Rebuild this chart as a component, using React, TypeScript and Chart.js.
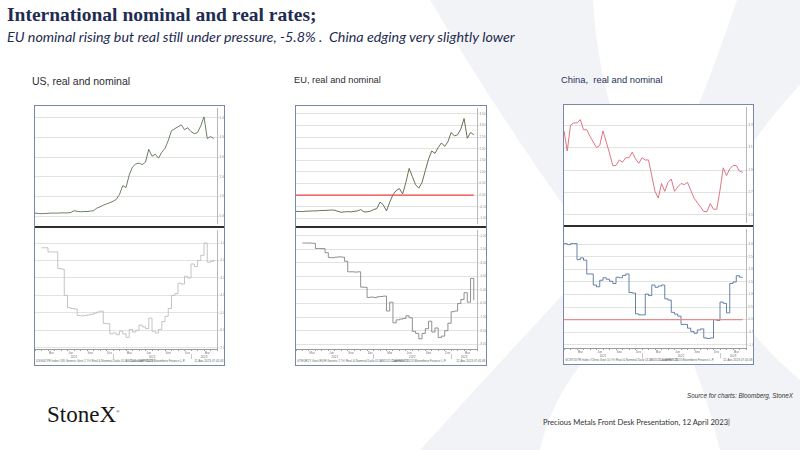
import { useEffect, useRef } from "react"
import { Chart, registerables, ChartConfiguration } from "chart.js"

Chart.register(...registerables)

// half-month periods from Jan 2021 to Apr 2023; the last label closes the axis
const monthNames = ["Jan", "Feb", "Mar", "Apr", "May", "Jun", "Jul", "Aug", "Sep", "Oct", "Nov", "Dec"]
const years = [2021, 2022, 2023]
const periods: string[] = []
years.forEach((yr) => {
  monthNames.forEach((mon, m) => {
    if (yr === 2023 && m > 3) return
    periods.push(`${mon} ${yr} a`, `${mon} ${yr} b`)
  })
})
periods.push("May 2023 a")

const monthTicks = ["Mar", "Jun", "Sep", "Dec"]
const yearLabelPeriods = ["Jul 2021 a", "Jul 2022 a", "Mar 2023 a"]
const yearLabels = ["2021", "2022", "2023"]
const yearBoundaries = ["Jan 2022 a", "Jan 2023 a"]

// US
const usNominal = [
  0.15, 0.13, 0.12, 0.13, 0.14, 0.15, 0.15, 0.15, 0.16, 0.16,
  0.16, 0.18, 0.27, 0.24, 0.22, 0.23, 0.23, 0.25, 0.27, 0.4,
  0.47, 0.55, 0.62, 0.68, 0.75, 0.85, 1.1, 1.55, 1.45, 2.1,
  2.5, 2.65, 2.7, 2.62, 2.75, 3.4, 3.05, 3.15, 2.95, 3.25,
  3.45, 3.85, 4.35, 4.45, 4.55, 4.65, 4.4, 4.5, 4.3, 4.2,
  4.25, 4.6, 5.05, 3.95, 4.05, 3.95,
]
const usReal = [
  null, null, -1.27, -1.27, -1.51, -1.51, -1.51, -2.46, -2.5, -4.0,
  -4.7, -4.75, -4.78, -5.15, -5.17, -5.15, -5.12, -5.08, -5.02, -4.95,
  -4.9, -5.6, -5.62, -6.2, -6.15, -6.25, -6.05, -6.2, -6.4, -5.95,
  -6.1, -6.0, -5.7, -5.8, -5.9, -5.3, -6.05, -6.15, -5.95, -5.5,
  -5.2, -4.75, -4.0, -3.9, -3.3, -3.35, -2.9, -3.0, -2.2, -2.35,
  -2.0, -1.7, -1.0, -2.1, -2.05, -1.95,
]
const usNominalTicks = [0, 1, 2, 3, 4, 5]
const usRealTicks = [-7, -6, -5, -4, -3, -2, -1]

// EU
const euNominal = [
  -0.7, -0.7, -0.71, -0.69, -0.69, -0.68, -0.68, -0.67, -0.66, -0.66,
  -0.65, -0.64, -0.65, -0.7, -0.74, -0.72, -0.71, -0.72, -0.7, -0.68,
  -0.62, -0.72, -0.72, -0.69, -0.62, -0.58, -0.3, -0.42, -0.68, -0.3,
  0.02, 0.2, 0.28, 0.05, 0.55, 1.15, 0.8, 0.45, 0.3, 0.55,
  1.05, 1.55, 1.9, 1.8, 2.05, 2.25, 2.1, 2.3, 2.7, 2.55,
  2.6, 2.85, 3.3, 2.45, 2.7, 2.6,
]
const euReal = [
  null, null, -1.54, -1.54, -1.54, -1.56, -1.94, -1.94, -1.95, -2.25,
  -2.6, -2.62, -2.58, -2.56, -2.58, -2.88, -3.66, -3.66, -3.68, -3.66,
  -4.79, -4.8, -5.55, -5.52, -5.56, -5.5, -5.48, -5.45, -6.55, -5.9,
  -7.42, -7.2, -7.15, -7.1, -6.9, -7.05, -8.05, -8.2, -8.6, -8.2,
  -7.85, -7.3, -8.1, -7.8, -8.5, -8.4, -8.0, -7.45, -6.6, -6.55,
  -6.0, -5.7, -5.2, -5.9, -4.15, -5.75,
]
const euNominalTicks = [-1, -0.5, 0, 0.5, 1, 1.5, 2, 2.5, 3, 3.5]
const euRealTicks = [-9, -8, -7, -6, -5, -4, -3, -2, -1]
const euNominalRef = 0

// China
const cnNominal = [
  3.25, 3.07, 3.3, 3.32, 3.32, 3.35, 3.26, 3.26, 3.2, 3.15,
  3.1, 3.12, 3.25, 3.15, 3.05, 2.94, 2.94, 2.99, 2.97, 3.01,
  3.01, 3.06, 3.0, 2.96, 3.01, 2.99, 2.99, 2.85, 2.71, 2.65,
  2.78, 2.71, 2.79, 2.82, 2.71, 2.75, 2.78, 2.77, 2.79, 2.72,
  2.65, 2.61, 2.57, 2.53, 2.53, 2.6, 2.55, 2.55, 2.72, 2.92,
  2.85, 2.91, 2.94, 2.94, 2.89, 2.88,
]
const cnReal = [
  3.03, 2.99, 3.03, 3.03, 2.39, 2.46, 2.37, 1.82, 1.82, 1.38,
  1.31, 1.57, 1.67, 1.61, 1.53, 1.44, 1.69, 1.67, 1.76, 1.82,
  1.08, 1.06, 0.23, 0.19, 0.19, 1.02, 0.96, 1.38, 1.29, 1.34,
  1.38, 0.83, 0.78, 0.29, 0.22, 0.14, -0.19, -0.19, -0.34, -0.47,
  -0.54, -0.41, -0.37, -0.73, -0.75, -0.73, 0.0, -0.03, 0.7, 0.65,
  0.27, 1.44, 1.5, 1.75, 1.69, 1.69,
]
const cnNominalTicks = [2.5, 2.7, 2.9, 3.1, 3.3]
const cnRealTicks = [-1, -0.5, 0, 0.5, 1, 1.5, 2, 2.5, 3]
const cnRealRef = 0

const TICK_FONT = { size: 3, family: "Liberation Sans" }

function yAxis(ticks: number[], min: number, max: number, axisWidth: number) {
  return {
    position: "right" as const,
    min,
    max,
    afterBuildTicks: (scale: any) => {
      scale.ticks = ticks.map((value) => ({ value }))
    },
    afterFit: (scale: any) => {
      scale.width = axisWidth
    },
    grid: { color: "#e2e2e2", lineWidth: 1, tickLength: 2 },
    border: { display: true, color: "#b8b8b8" },
    ticks: {
      font: TICK_FONT,
      color: "#8c8c8c",
      padding: 0.5,
      callback: (v: any) => Number(v).toFixed(2),
    },
  }
}

function refLine(level: number, color: string) {
  return {
    data: periods.slice(0, -1).map(() => level),
    borderColor: color,
    borderWidth: 1.2,
    pointRadius: 0,
  }
}

interface PanelChartProps {
  values: (number | null)[]
  color: string
  ticks: number[]
  range: [number, number]
  axisWidth: number
  stepped?: boolean
  refLevel?: number
  refColor?: string
  withAxis?: boolean
  height: number
}

function PanelChart({ values, color, ticks, range, axisWidth, stepped, refLevel, refColor, withAxis, height }: PanelChartProps) {
  const chartRef = useRef<HTMLCanvasElement>(null)
  const chartInstance = useRef<Chart | null>(null)

  useEffect(() => {
    if (!chartRef.current) return
    if (chartInstance.current) chartInstance.current.destroy()
    const ctx = chartRef.current.getContext("2d")
    if (!ctx) return

    const datasets: any[] = []
    if (refLevel !== undefined) datasets.push(refLine(refLevel, refColor || "#e84848"))
    datasets.push({
      data: values,
      borderColor: color,
      borderWidth: 0.9,
      pointRadius: 0,
      tension: 0,
      stepped: stepped ? true : false,
    })

    const scales: any = {
      y: yAxis(ticks, range[0], range[1], axisWidth),
    }
    if (withAxis) {
      scales.x = {
        type: "category",
        offset: false,
        weight: 0,
        grid: {
          drawOnChartArea: false,
          tickLength: 2,
          color: (c: any) => (periods[c.index] && periods[c.index].endsWith(" a") ? "#a0a0a0" : "transparent"),
        },
        border: { display: true, color: "#9a9a9a" },
        ticks: {
          autoSkip: false,
          maxRotation: 0,
          minRotation: 0,
          padding: 0,
          font: TICK_FONT,
          color: "#777",
          callback: (_v: any, i: number) => {
            const [mon, , half] = periods[i].split(" ")
            return half === "b" && monthTicks.includes(mon) ? mon : ""
          },
        },
        afterFit: (s: any) => {
          s.height = 5
        },
      }
      scales.xYear = {
        type: "category",
        position: "bottom",
        offset: false,
        weight: 1,
        grid: {
          drawOnChartArea: false,
          tickLength: 5,
          color: (c: any) => (yearBoundaries.includes(periods[c.index]) ? "#c8c8c8" : "transparent"),
        },
        border: { display: false },
        ticks: {
          autoSkip: false,
          maxRotation: 0,
          minRotation: 0,
          padding: -4,
          font: TICK_FONT,
          color: "#777",
          callback: (_v: any, i: number) => {
            const k = yearLabelPeriods.indexOf(periods[i])
            return k >= 0 ? yearLabels[k] : ""
          },
        },
        afterFit: (s: any) => {
          s.height = 5
        },
      }
    } else {
      scales.x = { type: "category", display: false, offset: false }
    }

    const config: ChartConfiguration = {
      type: "line",
      data: { labels: periods, datasets },
      options: {
        animation: false,
        responsive: true,
        maintainAspectRatio: false,
        layout: { padding: 0 },
        plugins: { legend: { display: false }, tooltip: { enabled: false } },
        scales,
      },
    }
    chartInstance.current = new Chart(ctx, config)

    return () => {
      if (chartInstance.current) chartInstance.current.destroy()
      chartInstance.current = null
    }
  }, [values, color, ticks, range, axisWidth, stepped, refLevel, refColor, withAxis])

  return (
    <div style={{ position: "relative", width: "100%", height }}>
      <canvas ref={chartRef} />
    </div>
  )
}

interface PanelProps {
  left: number
  top: number
  width: number
  axisWidth: number
  nominal: number[]
  real: (number | null)[]
  nominalColor: string
  realColor: string
  nominalTicks: number[]
  realTicks: number[]
  nominalRange: [number, number]
  realRange: [number, number]
  nominalRef?: number
  realRef?: number
  refColor?: string
  source: string
}

function Panel(p: PanelProps) {
  const tiny = { position: "absolute" as const, top: 0, fontSize: 6, whiteSpace: "nowrap" as const, color: "#666", transform: "scale(0.5)" }
  return (
    <div
      style={{
        position: "absolute",
        left: p.left,
        top: p.top,
        width: p.width,
        border: "1px solid #7c86a8",
        background: "#fff",
        boxSizing: "border-box",
      }}
    >
      <PanelChart values={p.nominal} color={p.nominalColor} ticks={p.nominalTicks} range={p.nominalRange}
        axisWidth={p.axisWidth} refLevel={p.nominalRef} refColor={p.refColor} height={120} />
      <div style={{ height: 2, background: "#2e2e2e" }} />
      <PanelChart values={p.real} color={p.realColor} ticks={p.realTicks} range={p.realRange}
        axisWidth={p.axisWidth} refLevel={p.realRef} refColor={p.refColor} stepped withAxis height={131} />
      <div style={{ position: "relative", height: 6, fontFamily: "Liberation Sans" }}>
        <span style={{ ...tiny, left: 1, transformOrigin: "left top" }}>{p.source}</span>
        <span style={{ ...tiny, left: "50%", transformOrigin: "left top" }}>Copyright© 2023 Bloomberg Finance L.P.</span>
        <span style={{ ...tiny, right: 1, transformOrigin: "right top" }}>12-Apr-2023 07:41:08</span>
      </div>
    </div>
  )
}

export default function App() {
  const navy = "#1e2b52"
  return (
    <div
      style={{
        position: "fixed",
        left: 0,
        top: 0,
        width: 800,
        height: 450,
        overflow: "hidden",
        background: "#fff",
      }}
    >
      <svg width={800} height={450} style={{ position: "absolute", left: 0, top: 0 }}>
        <path
          d="M430,0 L593,0 Q600,120 655,205 Q700,110 737,0 L800,0 L800,85 Q720,170 705,255 Q730,320 800,380 L800,450 L720,450 Q690,330 655,300 Q560,360 540,450 L420,450 Q520,340 600,255 Q520,150 430,0 Z"
          fill="#f2f3f6"
        />
      </svg>

      <div style={{ position: "absolute", left: 7, top: 4, fontFamily: "Liberation Serif", fontWeight: "bold", fontSize: 19.5, color: navy, whiteSpace: "nowrap" }}>
        International nominal and real rates;
      </div>
      <div style={{ position: "absolute", left: 7, top: 28, fontFamily: "Lato", fontStyle: "italic", fontSize: 14.3, color: navy, whiteSpace: "nowrap" }}>
        EU nominal rising but real still under pressure, -5.8% .&nbsp; China edging very slightly lower
      </div>

      <div style={{ position: "absolute", left: 32, top: 75, fontFamily: "Liberation Sans", fontSize: 10.5, color: "#2b2b33", whiteSpace: "nowrap" }}>
        US, real and nominal
      </div>
      <div style={{ position: "absolute", left: 294, top: 75, fontFamily: "Liberation Sans", fontSize: 9.3, color: "#2b2b33", whiteSpace: "nowrap" }}>
        EU, real and nominal
      </div>
      <div style={{ position: "absolute", left: 561, top: 74, fontFamily: "Liberation Sans", fontSize: 9.4, color: "#27315c", whiteSpace: "nowrap" }}>
        China,&nbsp; real and nominal
      </div>

      <Panel left={34} top={105} width={191} axisWidth={7}
        nominal={usNominal} real={usReal} nominalColor="#5b7050" realColor="#bdbdbd"
        nominalTicks={usNominalTicks} realTicks={usRealTicks}
        nominalRange={[-0.39, 5.49]} realRange={[-7.07, -0.27]}
        source="USGG2YR Index (US Generic Govt 2 Yr) Real & Nominal Daily 01JAN2021-11APR2023" />
      <Panel left={295} top={105} width={192} axisWidth={9}
        nominal={euNominal} real={euReal} nominalColor="#56623e" realColor="#858585"
        nominalTicks={euNominalTicks} realTicks={euRealTicks}
        nominalRange={[-1.23, 3.74]} realRange={[-9.35, -0.6]}
        nominalRef={euNominalRef} refColor="#ee4545"
        source="GTEUR2Y Govt (EUR Generic 2 Yr) Real & Nominal Daily 01JAN2021-11APR2023" />
      <Panel left={563} top={104} width={191} axisWidth={7}
        nominal={cnNominal} real={cnReal} nominalColor="#dc6676" realColor="#56749f"
        nominalTicks={cnNominalTicks} realTicks={cnRealTicks}
        nominalRange={[2.43, 3.46]} realRange={[-1.13, 3.6]}
        realRef={cnRealRef} refColor="#ec8a8a"
        source="GCNY10YR Index (China Govt 10 Yr) Real & Nominal Daily 01JAN2021-11APR2023" />

      <div style={{ position: "absolute", right: 7, top: 392, fontFamily: "Liberation Sans", fontStyle: "italic", fontSize: 6.3, color: "#333", whiteSpace: "nowrap" }}>
        Source for charts: Bloomberg, StoneX
      </div>
      <div style={{ position: "absolute", left: 47, top: 402, fontFamily: "Liberation Serif", fontSize: 23, color: "#161616", whiteSpace: "nowrap" }}>
        StoneX<sup style={{ fontSize: 5 }}>®</sup>
      </div>
      <div style={{ position: "absolute", left: 543, top: 417, fontFamily: "Lato", fontSize: 7.6, color: "#333", whiteSpace: "nowrap" }}>
        Precious Metals Front Desk Presentation, 12 April 2023|
      </div>
    </div>
  )
}
